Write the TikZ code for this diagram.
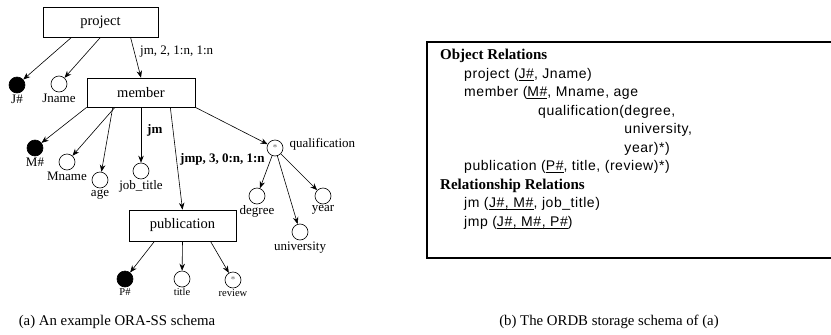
\documentclass[tikz,border=0pt]{standalone}
\usepackage{fontspec}
\setmainfont{Liberation Serif}
\setsansfont{Liberation Sans}[LetterSpace=4]
\usetikzlibrary{arrows.meta,calc}
\newcommand\ulkey[1]{\setbox0\hbox{#1}\rlap{\rule[-2.8pt]{\wd0}{1.1pt}}\box0}
\begin{document}
\begin{tikzpicture}[x=1pt,y=-1pt,
  box/.style={draw, line width=0.6pt, rectangle, inner sep=0pt, font=\fontsize{14.5}{16}\selectfont},
  att/.style={draw, circle, line width=0.6pt, minimum size=16pt, inner sep=0pt, font=\fontsize{9}{9}\selectfont\color{black!60}},
  keyatt/.style={att, fill=black},
  lbl/.style={font=\fontsize{13}{15}\selectfont, inner sep=1pt},
  slbl/.style={font=\fontsize{10.5}{12}\selectfont, inner sep=1pt},
  elbl/.style={font=\fontsize{13}{15}\selectfont, inner sep=0pt, anchor=west},
  conn/.style={line width=0.6pt, -{Stealth[length=7pt,width=5.5pt]}},
  hdr/.style={font=\fontsize{15}{17}\selectfont\bfseries, inner sep=0pt, anchor=west},
  rel/.style={font=\sffamily\fontsize{14}{16}\selectfont, inner sep=0pt, anchor=west},
  relc/.style={rel, anchor=base west},
  captxt/.style={font=\fontsize{14.8}{17}\selectfont, inner sep=0pt}]
\useasboundingbox (0,0) rectangle (831,335);

% ---- (a) ORA-SS schema ----
\node[box, minimum width=115pt, minimum height=30pt] (project) at (100.5,22) {project};
\node[box, minimum width=108pt, minimum height=29pt] (member) at (141,92.5) {member};
\node[box, minimum width=107pt, minimum height=31pt] (publication) at (182.5,225.5) {publication};

\node[keyatt, label={[lbl]below:J\#}] (J) at (17,85) {};
\node[att, label={[lbl]below:Jname}] (Jname) at (59,84) {};
\node[keyatt, label={[lbl]below:M\#}] (M) at (35,148) {};
\node[att, label={[lbl]below:Mname}] (Mname) at (67,162) {};
\node[att, label={[lbl]below:age}] (age) at (100,180) {};
\node[att, label={[lbl]below:job\_title}] (jobtitle) at (141,171) {};
\node[att, label={[lbl, xshift=5pt, yshift=4pt]right:qualification}] (qual) at (275,148) {*};
\node[att, label={[lbl]below:degree}] (degree) at (257,196) {};
\node[att, label={[lbl]below:year}] (year) at (323,196) {};
\node[att, label={[lbl]below:university}] (univ) at (300,232) {};
\node[keyatt, label={[slbl]below:P\#}] (P) at (125,279) {};
\node[att, label={[slbl]below:title}] (title) at (182,279) {};
\node[att, label={[slbl]below:review}] (review) at (233,280) {*};

\draw[conn] ($(project.south west)!0.25!(project.south east)$) -- (J);
\draw[conn] (project.south) -- (Jname);
\draw[conn] ($(project.south west)!0.76!(project.south east)$) -- (member.north);
\node[elbl] (jmlabel) at (140,52) {jm, 2, 1:n, 1:n};

\draw[conn] (member.south west) -- (M);
\draw[conn] ($(member.south west)!0.26!(member.south east)$) -- (Mname);
\draw[conn] ($(member.south west)!0.24!(member.south east)$) -- (age);
\draw[conn] (member.south) -- (jobtitle);
\node[elbl, font=\fontsize{13}{15}\selectfont\bfseries] (jmbold) at (147,130) {jm};
\draw[conn] ($(member.south west)!0.77!(member.south east)$) -- (publication.north);
\node[elbl, font=\fontsize{13}{15}\selectfont\bfseries] (jmplabel) at (180,159) {jmp, 3, 0:n, 1:n};
\draw[conn] (member.south east) -- (qual);
\draw[conn] (qual) -- (degree);
\draw[conn] (qual) -- (univ);
\draw[conn] (qual) -- (year);

\draw[conn] ($(publication.south west)!0.24!(publication.south east)$) -- (P);
\draw[conn] (publication.south) -- (title);
\draw[conn] ($(publication.south west)!0.76!(publication.south east)$) -- (review);

\node[captxt] (capa) at (117,322) {(a) An example ORA-SS schema};

% ---- (b) ORDB storage schema ----
\draw[line width=1.2pt] (427,42) rectangle (834,258);
\node[hdr] (objrel) at (440,56) {Object Relations};
\node[rel] (r1) at (464,74.5) {project (\ulkey{J\#}, Jname)};
\node[rel] (r2) at (464,93) {member (\ulkey{M\#}, Mname, age};
\node[rel] (r3) at (538,111.5) {qualification(};
\node[rel] (r3b) at (r3.east) {degree,};
\node[rel] (r4) at ($(r3b.west)+(0,18.5)$) {university,};
\node[rel] (r5) at ($(r3b.west)+(0,37)$) {year)*)};
\node[rel] (r6) at (464,167) {publication (\ulkey{P\#}, title, (review)*)};
\node[hdr] (relrel) at (440,185.5) {Relationship Relations};
\node[rel] (r7) at (464,204) {jm (};
\node[relc] (r7b) at (r7.base east) {J\#, M\#};
\node[relc] (r7c) at (r7b.base east) {, job\textunderscore title)};
\draw[line width=1.1pt] ($(r7b.base west)+(0,2.3)$) -- ($(r7b.base east)+(0,2.3)$);
\node[rel] (r8) at (464,222.5) {jmp (\ulkey{J\#, M\#, P\#})};

\node[captxt] (capb) at (609,322) {(b) The ORDB storage schema of (a)};
\end{tikzpicture}
\end{document}
